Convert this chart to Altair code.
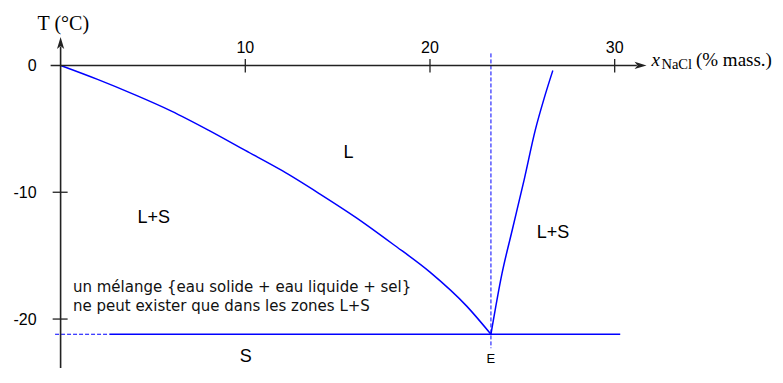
import altair as alt
import pandas as pd

# ---- data ----
# liquidus (ice side)
left_x = [0, 2, 4, 6, 8, 10, 12, 14, 16, 18, 20, 22, 23.3]
left_T = [0, -1.1, -2.3, -3.6, -5.1, -6.7, -8.3, -10.1, -12.0, -14.1, -16.3, -19.0, -21.2]
# liquidus (salt side)
right_x = [23.3, 23.9, 24.45, 25.1, 25.7, 26.2, 26.65]
right_T = [-21.2, -16.4, -13.0, -9.0, -5.1, -2.5, -0.4]
# eutectic
eut_x = 23.3
eut_T = -21.2
solidus_dash_x = [-0.3, 2.65]
solidus_solid_x = [2.65, 30.3]
eut_vert_T = [0.95, -22.3]

x_ticks = [10, 20, 30]
x_tick_labels = ["10", "20", "30"]
y_ticks = [0, -10, -20]
y_tick_labels = ["0", "-10", "-20"]

region_labels = ["L", "L+S", "L+S", "S"]
region_x = [15.59, 5.04, 26.66, 10.02]
region_T = [-7.29, -12.42, -13.60, -23.35]

note_lines = ["un mélange {eau solide + eau liquide + sel}",
              "ne peut exister que dans les zones L+S"]
note_x = [0.67, 0.67]
note_T = [-17.86, -19.34]

XDOM = [-2.848, 38.68]
YDOM = [-23.86, 4.53]
BLUE = "#0000ff"
AX = "#222222"

xs = alt.Scale(domain=XDOM, nice=False, zero=False)
ys = alt.Scale(domain=YDOM, nice=False, zero=False)


def X(f="x"):
    return alt.X(f"{f}:Q", scale=xs, axis=None)


def Y(f="T"):
    return alt.Y(f"{f}:Q", scale=ys, axis=None)


left_df = pd.DataFrame({"x": left_x, "T": left_T})
right_df = pd.DataFrame({"x": right_x, "T": right_T})

left_line = alt.Chart(left_df).mark_line(color=BLUE, strokeWidth=1.5, interpolate="monotone") \
    .encode(x=X(), y=Y())
right_line = alt.Chart(right_df).mark_line(color=BLUE, strokeWidth=1.5, interpolate="monotone") \
    .encode(x=X(), y=Y())

sol_dash = alt.Chart(pd.DataFrame({"x": [solidus_dash_x[0]], "x2": [solidus_dash_x[1]], "T": [eut_T]})) \
    .mark_rule(color=BLUE, strokeWidth=1.2, strokeDash=[4, 2]) \
    .encode(x=X(), x2="x2:Q", y=Y())
sol_solid = alt.Chart(pd.DataFrame({"x": [solidus_solid_x[0]], "x2": [solidus_solid_x[1]], "T": [eut_T]})) \
    .mark_rule(color=BLUE, strokeWidth=1.5) \
    .encode(x=X(), x2="x2:Q", y=Y())
vert = alt.Chart(pd.DataFrame({"x": [eut_x], "T": [eut_vert_T[0]], "T2": [eut_vert_T[1]]})) \
    .mark_rule(color=BLUE, strokeWidth=1.0, strokeDash=[4, 2]) \
    .encode(x=X(), y=Y(), y2="T2:Q")

# axes
x_axis = alt.Chart(pd.DataFrame({"x": [-0.54], "x2": [31.2], "T": [0]})) \
    .mark_rule(color=AX, strokeWidth=1.6).encode(x=X(), x2="x2:Q", y=Y())
y_axis = alt.Chart(pd.DataFrame({"x": [0], "T": [YDOM[0]], "T2": [1.5]})) \
    .mark_rule(color=AX, strokeWidth=1.6).encode(x=X(), y=Y(), y2="T2:Q")

arrow_right = "M1,0 L-1,-0.6 L-0.5,0 L-1,0.6 Z"
arrow_up = "M0,-1 L0.6,1 L0,0.5 L-0.6,1 Z"
x_arrow = alt.Chart(pd.DataFrame({"x": [31.40], "T": [0]})) \
    .mark_point(shape=arrow_right, filled=True, size=144, color=AX, opacity=1, strokeWidth=0) \
    .encode(x=X(), y=Y())
y_arrow = alt.Chart(pd.DataFrame({"x": [0], "T": [1.774]})) \
    .mark_point(shape=arrow_up, filled=True, size=144, color=AX, opacity=1, strokeWidth=0) \
    .encode(x=X(), y=Y())

xt_df = pd.DataFrame({"x": x_ticks, "T": [0.5] * 3, "T2": [-0.55] * 3, "lab": x_tick_labels, "Tl": [1.0] * 3})
x_tick_marks = alt.Chart(xt_df).mark_rule(color=AX, strokeWidth=1.3).encode(x=X(), y=Y(), y2="T2:Q")
x_tick_text = alt.Chart(xt_df).mark_text(font="Liberation Sans", fontSize=16, align="center",
                                         baseline="alphabetic", color="black") \
    .encode(x=X(), y=Y("Tl"), text="lab:N")

yt_df = pd.DataFrame({"T": y_ticks, "lab": y_tick_labels, "xl": [-1.3] * 3})
y_tick_marks = alt.Chart(pd.DataFrame({"x": [-0.43] * 2, "x2": [0.38] * 2, "T": y_ticks[1:]})) \
    .mark_rule(color=AX, strokeWidth=1.3).encode(x=X(), x2="x2:Q", y=Y())
y_tick_text = alt.Chart(yt_df).mark_text(font="Liberation Sans", fontSize=16, align="right",
                                         baseline="alphabetic", dy=5.5, color="black") \
    .encode(x=X("xl"), y=Y(), text="lab:N")

# axis titles
t_title = alt.Chart(pd.DataFrame({"x": [-1.245], "T": [2.80], "t": ["T (°C)"]})) \
    .mark_text(font="Liberation Serif", fontSize=20, align="left", baseline="alphabetic", color="black") \
    .encode(x=X(), y=Y(), text="t:N")
x_title_x = alt.Chart(pd.DataFrame({"x": [32.0], "T": [-0.04], "t": ["x"]})) \
    .mark_text(font="Liberation Serif", fontSize=19, fontStyle="italic", align="left",
               baseline="alphabetic", color="black") \
    .encode(x=X(), y=Y(), text="t:N")
x_title_sub = alt.Chart(pd.DataFrame({"x": [32.53], "T": [-0.28], "t": ["NaCl"]})) \
    .mark_text(font="Liberation Serif", fontSize=14.5, align="left", baseline="alphabetic", color="black") \
    .encode(x=X(), y=Y(), text="t:N")
x_title_rest = alt.Chart(pd.DataFrame({"x": [34.4], "T": [-0.04], "t": ["(% mass.)"]})) \
    .mark_text(font="Liberation Serif", fontSize=19, align="left", baseline="alphabetic", color="black") \
    .encode(x=X(), y=Y(), text="t:N")

# region labels
reg_df = pd.DataFrame({"x": region_x, "T": region_T, "t": region_labels})
regions = alt.Chart(reg_df).mark_text(font="Liberation Sans", fontSize=18, align="center",
                                      baseline="alphabetic", color="black") \
    .encode(x=X(), y=Y(), text="t:N")
e_label = alt.Chart(pd.DataFrame({"x": [eut_x], "T": [-23.5], "t": ["E"]})) \
    .mark_text(font="Liberation Sans", fontSize=13, align="center", baseline="alphabetic", color="black") \
    .encode(x=X(), y=Y(), text="t:N")

note_df = pd.DataFrame({"x": note_x, "T": note_T, "t": note_lines})
note = alt.Chart(note_df).mark_text(font="DejaVu Sans", fontSize=15, align="left",
                                    baseline="alphabetic", color="#111111") \
    .encode(x=X(), y=Y(), text="t:N")

chart = alt.layer(
    left_line, right_line, sol_dash, sol_solid, vert,
    x_axis, y_axis, x_arrow, y_arrow,
    x_tick_marks, x_tick_text, y_tick_marks, y_tick_text,
    t_title, x_title_x, x_title_sub, x_title_rest,
    regions, e_label, note,
).properties(
    width=767, height=360, padding=0,
    autosize=alt.AutoSizeParams(type="none"),
).configure_view(stroke=None)

chart.save("out.html", embed_options={"renderer": "svg", "actions": False})
